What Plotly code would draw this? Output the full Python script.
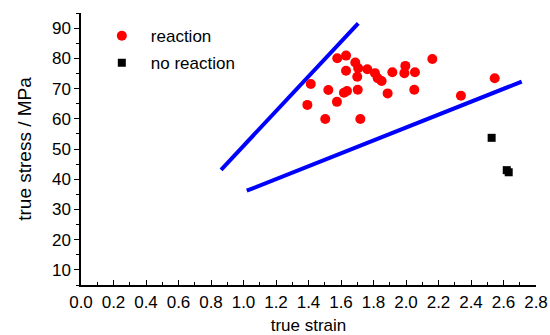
import plotly.graph_objects as go

# reaction points (true strain, true stress / MPa)
reaction_strain = [1.577, 1.631, 1.688, 1.631, 1.706, 1.762, 1.700, 1.809, 1.826, 1.850,
                   1.916, 1.996, 1.990, 2.055, 2.162, 1.414, 1.522, 1.618, 1.637, 1.703,
                   1.575, 1.887, 2.051, 1.393, 1.503, 1.719, 2.338, 2.546]
reaction_stress = [80.0, 80.9, 78.6, 75.9, 76.7, 76.4, 73.9, 75.1, 73.4, 72.5,
                   75.4, 77.5, 75.1, 75.4, 79.8, 71.5, 69.5, 68.6, 69.2, 69.6,
                   65.6, 68.4, 69.6, 64.6, 59.9, 59.9, 67.6, 73.4]

# no reaction points
noreact_strain = [2.527, 2.620, 2.632]
noreact_stress = [53.7, 43.0, 42.3]

# boundary lines
upper_line_strain = [0.862, 1.706]
upper_line_stress = [43.1, 91.6]
lower_line_strain = [1.020, 2.712]
lower_line_stress = [36.2, 72.3]

x_ticks = [round(0.2 * i, 1) for i in range(15)]
x_ticklabels = [f"{v:.1f}" for v in x_ticks]
y_ticks = [10, 20, 30, 40, 50, 60, 70, 80, 90]

FONT = "Liberation Sans, Arial, sans-serif"

fig = go.Figure()
fig.add_trace(go.Scatter(x=upper_line_strain, y=upper_line_stress, mode="lines",
                         line=dict(color="#0000FF", width=4), showlegend=False))
fig.add_trace(go.Scatter(x=lower_line_strain, y=lower_line_stress, mode="lines",
                         line=dict(color="#0000FF", width=4), showlegend=False))
fig.add_trace(go.Scatter(x=reaction_strain, y=reaction_stress, mode="markers",
                         name="reaction", legendgroup="a",
                         marker=dict(symbol="circle", size=10, color="#FF0000")))
fig.add_trace(go.Scatter(x=noreact_strain, y=noreact_stress, mode="markers",
                         name="no reaction", legendgroup="b",
                         marker=dict(symbol="square", size=8, color="black")))

fig.update_layout(
    width=550, height=335,
    margin=dict(l=81, r=14, t=13, b=50),
    paper_bgcolor="white", plot_bgcolor="white",
    font=dict(family=FONT, size=17, color="black"),
    showlegend=True,
    legend=dict(x=0.026, y=0.981, xanchor="left", yanchor="top",
                bgcolor="rgba(0,0,0,0)", font=dict(size=17),
                tracegroupgap=2, itemwidth=48),
)
fig.update_xaxes(
    range=[0, 2.8], tickvals=x_ticks, ticktext=x_ticklabels, automargin=False,
    showline=True, linecolor="black", linewidth=1.5, mirror=False,
    ticks="inside", ticklen=5, tickwidth=1.2, tickcolor="black",
    minor=dict(dtick=0.1, ticks="inside", ticklen=3, tickwidth=1, tickcolor="black"),
    showgrid=False, zeroline=False,
    tickfont=dict(size=17), ticklabelstandoff=1,
    title=dict(text="true strain", font=dict(size=17), standoff=8),
)
fig.update_yaxes(
    range=[5, 95], tickvals=y_ticks, automargin=False,
    showline=True, linecolor="black", linewidth=1.5, mirror=False,
    ticks="outside", ticklen=5, tickwidth=1.2, tickcolor="black",
    minor=dict(dtick=5, tick0=5, ticks="outside", ticklen=3, tickwidth=1, tickcolor="black"),
    showgrid=False, zeroline=False,
    tickfont=dict(size=17),
    title=dict(text="true stress / MPa", font=dict(size=19), standoff=15),
)

fig.write_html("out.html", config={"displayModeBar": False},
               post_script="document.body.style.margin='0';")
